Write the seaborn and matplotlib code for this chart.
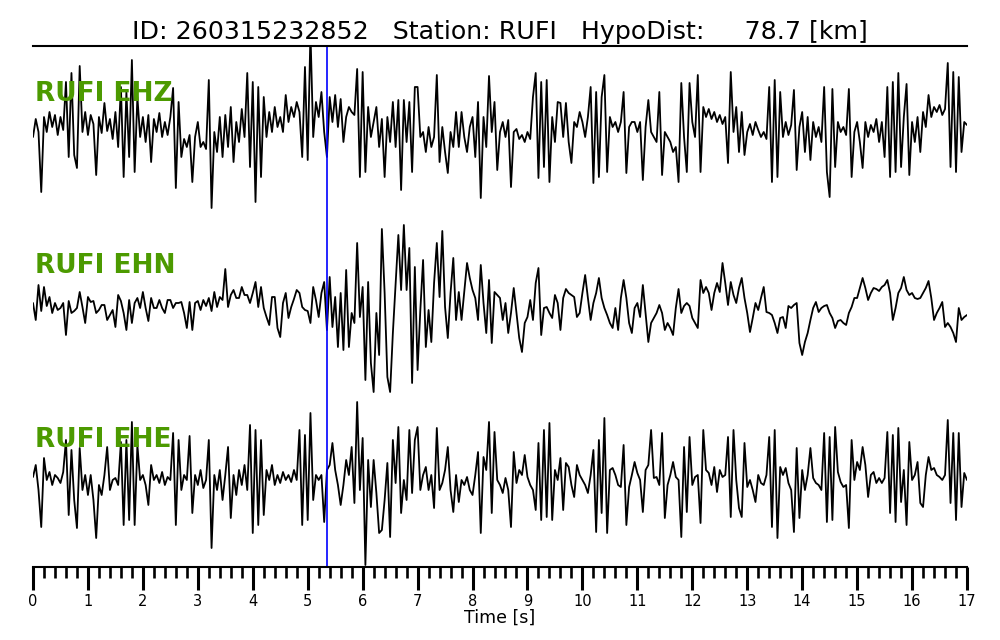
import numpy as np
import pandas as pd
import matplotlib
matplotlib.use("Agg")
import matplotlib.pyplot as plt
import seaborn as sns
from matplotlib.ticker import MultipleLocator

# sample spacing of the traces (s)
dt = 0.05

# amplitudes, positive = up, one row per second
ehz = [-10, 8, -5, -65, 10, -5, 15, 0, 12, -8, 10, -3, 45, -30, 54, -28, -41, 61, -5, 15,
       -8, 12, 3, -48, 10, -6, 24, -4, 8, -12, 15, -20, 40, -50, 35, -30, 67, -45, 30, -10,
       10, -15, 12, -35, 8, -5, 14, -10, 5, -8, 10, 39, -61, 25, -30, -12, -20, -8, -55, -10,
       5, -20, -15, -22, 47, -81, -5, -25, 10, -30, 12, -20, 20, -35, 5, -15, 18, -10, 54, -40,
       45, -75, 40, -50, 30, -10, 15, -5, 20, 0, 10, -5, 32, 5, 20, 10, 25, 15, -30, 60,
       -33, 95, -10, 25, 10, 35, -5, -30, 30, 5, 32, 0, 28, -15, 10, 20, 15, 12, 58, -50,
       55, -45, 20, -10, 5, 20, -20, 8, -50, 10, -15, 25, -20, 27, -63, 27, -15, 25, -45, 40,
       40, -10, -5, -25, 0, -20, -10, 52, -35, 0, -25, -46, -5, -20, 15, -20, 15, -10, -25, 0,
       10, -30, 25, -71, 10, -20, 51, -5, 25, -43, -5, 5, -10, 7, -60, -5, -2, -12, -8, -15,
       -5, -12, 30, 54, -51, 45, -40, 47, -55, 10, -15, 25, 24, -10, 24, -15, -36, 5, 0, 15,
       5, -10, 10, 40, -56, 35, -50, 30, 52, -45, 10, 0, 5, -5, 5, 35, -46, 0, 5, 5,
       -5, 5, -53, 0, 27, -5, -10, -15, 35, -48, -5, -10, -15, -25, -20, -55, 44, -10, -45, 44,
       5, -10, 52, -45, 20, 10, 18, 8, 15, 5, 12, 3, 10, -36, 55, -5, 20, -25, 15, -28,
       -5, 3, -8, 5, -3, -10, -5, -12, 40, -55, 47, -50, 35, -10, 5, -8, 2, 37, -43, 0,
       15, -25, 10, -33, 5, -10, 0, -15, 40, -45, -70, 38, -40, 5, -5, 0, -8, 38, -50, -5,
       5, -15, -41, 5, -10, 2, -5, 8, -15, 5, -30, 40, -50, 45, -45, 54, -40, 10, 43, -48,
       5, -15, 10, -25, 15, 0, 32, 10, 20, 15, 22, 12, 18, 64, -40, 55, -45, 50, -25, 5,
       2]

ehn = [0, -17, 18, -8, 16, -3, 6, -10, 0, -7, -5, 0, -32, 2, -10, -8, -5, 11, -4, -20,
       6, 1, 2, -10, -7, -2, -2, -17, -12, -7, -24, 8, 2, -10, -27, 3, -20, 0, 5, -5,
       11, -5, -18, 5, -5, -5, 3, -5, -10, 3, 3, -5, 0, 0, 1, -10, -25, 1, -27, 0,
       2, -7, 3, -3, 5, -8, 11, -4, 6, 3, 34, -4, 8, 13, 5, 5, 16, 8, 8, 0,
       10, 21, -4, 16, -5, -14, -22, 6, 6, -25, -34, 0, 10, -15, -4, 4, 13, 10, -4, -7,
       -8, -20, 16, 3, -14, 10, 21, -27, 26, -24, 6, -44, 10, -47, 33, -44, -10, -20, 60, -14,
       16, -77, 21, -60, -89, -10, -52, 74, 10, -74, -89, -30, 20, 68, 13, 78, 13, 55, -80, 36,
       -67, -7, 43, -44, -7, -39, 20, 60, 6, 72, -4, -35, 10, 45, -17, 11, -17, 11, 40, 25,
       13, 5, -17, 38, 0, -30, 23, -40, 11, 8, 5, -17, 0, -30, -10, 15, -10, -35, -49, -20,
       -14, 3, -17, 20, 35, -32, -5, -4, -10, -15, 8, 0, -27, 5, 14, 10, 8, 6, -14, -10,
       10, 28, 5, -17, 0, 10, 25, 5, -5, -12, -20, -25, -5, -27, 5, 23, 5, -20, -30, -5,
       0, -14, 18, -10, -39, -20, -15, -10, -2, -10, -27, -20, -25, -32, -5, 14, -10, -3, 0, -3,
       -15, -20, -25, 23, 10, 16, 10, -7, 10, 20, 11, 40, 20, -2, 21, 8, 0, 15, 25, 5,
       -10, -29, -15, 0, -7, 5, 16, -9, -10, -12, -20, -30, -15, -14, -25, -3, -5, -2, 0, -40,
       -52, -39, -30, -17, -5, 1, -9, -5, -3, -2, -10, -15, -25, -18, -17, -20, -22, -10, -4, 5,
       5, 15, 25, 15, 3, 10, 15, 14, 12, 16, 18, 23, 10, -17, -5, 10, 15, 26, 13, 8,
       10, 5, 4, 5, 10, 15, 22, 5, -17, -10, -5, 1, -24, -20, -24, -30, -39, -5, -17, -14,
       -12]

ehe = [3, 15, -10, -47, 22, 0, 8, -5, 5, 2, -3, 8, 40, -35, 30, -20, -48, 32, -10, 5,
       -15, 5, -20, -58, -5, -15, 5, 33, -10, 0, 2, -5, 38, -45, 40, -40, 58, -45, 35, 0,
       5, -5, -25, 15, 0, 5, -3, 8, -5, 3, 0, 47, -45, 40, -10, 5, 0, 44, -33, 5,
       -5, 10, -8, 0, 40, -68, 5, -10, 10, -20, 5, 33, -38, 5, -15, 10, -5, 15, -10, 55,
       -53, 50, -45, 40, -35, 10, 0, 15, -5, 5, -3, 8, 0, 5, -2, 10, 0, 50, -45, 45,
       -40, 67, -20, 5, 0, 5, -42, 10, 15, 37, 10, -5, -25, -5, 20, 5, 33, -23, 78, -10,
       42, -85, 20, -27, 20, -13, -53, -50, -20, 17, -57, 40, -3, 53, -33, 0, -20, 50, -13, 40,
       53, -10, 5, 13, -10, 5, -28, 52, -10, -3, 10, 33, -10, -32, 5, -22, 0, -5, 3, -10,
       -15, 5, 28, -53, 23, 10, 58, -33, 48, 0, -5, -13, 2, -10, -47, 28, -3, 10, 5, 25,
       3, -5, -10, -30, 37, -40, 50, -37, 57, -40, 10, 0, 22, -30, 17, 13, -5, -17, 15, 5,
       0, -5, -13, 5, 30, -52, 40, -33, 62, -53, 10, 12, 5, -5, -7, 35, -45, -7, 5, 18,
       7, 0, -32, 10, 15, 50, 2, 3, -5, 47, -38, -5, 5, 18, 3, 0, -57, 33, -32, 43,
       -5, 3, 5, -43, 50, 10, 7, -5, 13, -12, 10, 3, 5, 43, -37, 50, 0, -28, -37, 37,
       -7, 0, -10, -22, 5, -3, -5, 5, 43, -47, 50, -58, 13, 5, 12, -3, -10, -52, 32, -38,
       10, -10, 5, 32, 2, -3, -5, -10, 47, -42, 43, -40, 53, 8, -2, -7, -5, -48, 40, 0,
       18, 10, 33, 15, -17, 5, 8, -3, 2, -3, 2, 48, -33, 45, -42, 52, -22, 10, -45, 38,
       0, 5, 18, -23, -27, 5, 23, 10, 12, 5, 3, 0, 5, 60, -23, 47, -40, 47, -27, 7,
       0]

channels = ["RUFI EHZ", "RUFI EHN", "RUFI EHE"]
pick_time = 5.35
event_id = "260315232852"
station = "RUFI"
hypo_dist = 78.7

# vertical layout (screen-like units, top = 46, bottom = 567)
baselines = [127, 303, 480]
label_y = [101, 273, 447]

frames = []
for name, amp, base in zip(channels, [ehz, ehn, ehe], baselines):
    amp = np.asarray(amp, dtype=float)
    frames.append(pd.DataFrame({"time": np.arange(len(amp)) * dt,
                                "y": base - amp,
                                "channel": name}))
df = pd.concat(frames, ignore_index=True)

sns.set_style("white")
plt.rcParams["font.family"] = ["DejaVu Sans"]
plt.rcParams["text.color"] = "black"
plt.rcParams["axes.labelcolor"] = "black"
plt.rcParams["xtick.color"] = "black"

fig = plt.figure(figsize=(10, 6.4), dpi=100)
ax = fig.add_axes([0.033, 0.1140625, 0.934, 0.8140625])

sns.lineplot(data=df, x="time", y="y", units="channel", estimator=None,
             color="black", linewidth=1.3, ax=ax, legend=False)
ax.axvline(pick_time, color="blue", linewidth=1.2)

for name, ly in zip(channels, label_y):
    ax.text(0.04, ly, name, color="#4c9a00", fontsize=19, fontweight="bold",
            va="baseline", ha="left")

ax.set_xlim(0, 17)
ax.set_ylim(567, 46)
ax.set_yticks([])
ax.set_ylabel("")
ax.set_xlabel("Time [s]", fontsize=12.5, labelpad=0, color="black")
ax.xaxis.set_major_locator(MultipleLocator(1))
ax.xaxis.set_minor_locator(MultipleLocator(0.2))
ax.tick_params(axis="x", which="major", direction="out", length=16.5, width=2.2,
               labelsize=10.5, pad=3, bottom=True, colors="black")
ax.tick_params(axis="x", which="minor", direction="out", length=8, width=1.9,
               bottom=True, colors="black")
for side in ["left", "right"]:
    ax.spines[side].set_visible(False)
for side in ["top", "bottom"]:
    ax.spines[side].set_linewidth(1.5)
    ax.spines[side].set_color("black")

ax.set_title(f"ID: {event_id}   Station: {station}   HypoDist: {hypo_dist:8.1f} [km]",
             fontsize=18.2, pad=5, color="black")

fig.savefig("out.png", dpi=100)
